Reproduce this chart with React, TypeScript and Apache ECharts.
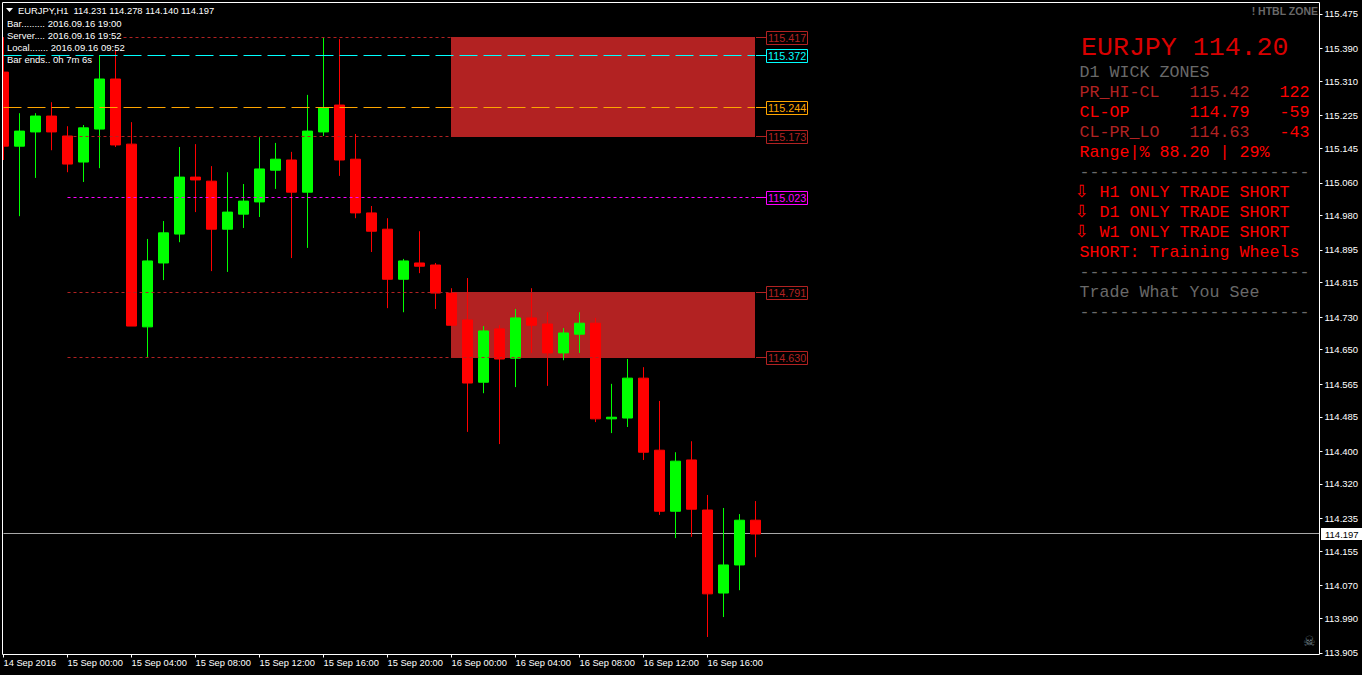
import React, { useEffect, useRef } from "react";
import * as echarts from "echarts";

const tickLabels = [
  "14 Sep 2016", "15 Sep 00:00", "15 Sep 04:00", "15 Sep 08:00", "15 Sep 12:00", "15 Sep 16:00",
  "15 Sep 20:00", "16 Sep 00:00", "16 Sep 04:00", "16 Sep 08:00", "16 Sep 12:00", "16 Sep 16:00",
];
const priceTicks = [
  115.475, 115.39, 115.31, 115.225, 115.145, 115.06, 114.98, 114.895, 114.815, 114.73,
  114.65, 114.565, 114.485, 114.4, 114.32, 114.235, 114.155, 114.07, 113.99, 113.905,
];
const opens = [
  115.332, 115.15, 115.185, 115.224, 115.175, 115.111, 115.192, 115.315, 115.155, 114.706, 114.863, 114.934,
  115.074, 115.064, 114.946, 114.983, 115.013, 115.091, 115.116, 115.037, 115.185, 115.251, 115.118, 114.986,
  114.946, 114.823, 114.863, 114.858, 114.789, 114.723, 114.57, 114.701, 114.629, 114.728, 114.713, 114.642,
  114.688, 114.715, 114.48, 114.482, 114.58, 114.403, 114.253, 114.379, 114.256, 114.052, 114.121, 114.231,
];
const closes = [
  115.15, 115.187, 115.224, 115.185, 115.106, 115.195, 115.315, 115.153, 114.708, 114.868, 114.937, 115.074,
  115.067, 114.946, 114.988, 115.015, 115.094, 115.118, 115.037, 115.187, 115.244, 115.116, 114.986, 114.941,
  114.823, 114.868, 114.855, 114.789, 114.71, 114.568, 114.696, 114.627, 114.728, 114.71, 114.642, 114.691,
  114.715, 114.48, 114.484, 114.58, 114.398, 114.253, 114.376, 114.258, 114.05, 114.121, 114.231, 114.197,
];
const lows = [
  115.116, 114.978, 115.072, 115.14, 115.086, 115.062, 115.096, 115.148, 114.708, 114.632, 114.821, 114.914,
  114.988, 114.843, 114.841, 114.949, 114.976, 115.045, 114.875, 114.9, 115.175, 115.077, 114.973, 114.89,
  114.752, 114.742, 114.838, 114.75, 114.71, 114.448, 114.543, 114.418, 114.558, 114.642, 114.561, 114.624,
  114.642, 114.472, 114.445, 114.46, 114.379, 114.244, 114.187, 114.19, 113.944, 113.993, 114.059, 114.14,
];
const highs = [
  115.418, 115.231, 115.231, 115.258, 115.199, 115.202, 115.374, 115.386, 115.209, 114.922, 114.966, 115.148,
  115.155, 115.101, 115.086, 115.057, 115.172, 115.158, 115.136, 115.276, 115.418, 115.413, 115.18, 115.003,
  114.973, 114.873, 114.941, 114.863, 114.801, 114.826, 114.708, 114.71, 114.75, 114.801, 114.742, 114.703,
  114.742, 114.728, 114.566, 114.627, 114.607, 114.524, 114.398, 114.425, 114.293, 114.261, 114.246, 114.278,
];
const currentPrice = 114.197;
const zoneBands = [
  [115.417, 115.173],
  [114.791, 114.63],
];
const levelLines = [
  { value: 115.417, color: "#B22222", from: 7.5, dash: [3, 3] },
  { value: 115.372, color: "#00FFFF", from: 0, dash: [18, 6] },
  { value: 115.244, color: "#FFA500", from: 0, dash: [18, 6] },
  { value: 115.173, color: "#B22222", from: 4, dash: [3, 3] },
  { value: 115.023, color: "#FF00FF", from: 4, dash: [3, 3] },
  { value: 114.791, color: "#B22222", from: 4, dash: [3, 3] },
  { value: 114.63, color: "#B22222", from: 4, dash: [3, 3] },
];
const headerText = "EURJPY,H1  114.231 114.278 114.140 114.197";
const infoLines = [
  "Bar......... 2016.09.16 19:00",
  "Server.... 2016.09.16 19:52",
  "Local....... 2016.09.16 09:52",
  "Bar ends.. 0h 7m 6s",
];
const panelRule = "-----------------------";
const panelRows = [
  { cells: ["D1 WICK ZONES"], colors: ["#696969"] },
  { cells: ["PR_HI-CL", "115.42", "122"], colors: ["#B22222", "#B22222", "#FF0000"] },
  { cells: ["CL-OP", "114.79", "-59"], colors: ["#FF0000", "#FF0000", "#FF0000"] },
  { cells: ["CL-PR_LO", "114.63", "-43"], colors: ["#B22222", "#B22222", "#FF0000"] },
  { cells: ["Range|% 88.20 | 29%"], colors: ["#FF0000"] },
  { cells: [panelRule], colors: ["#696969"] },
  { cells: ["H1 ONLY TRADE SHORT"], colors: ["#FF0000"], arrow: true },
  { cells: ["D1 ONLY TRADE SHORT"], colors: ["#FF0000"], arrow: true },
  { cells: ["W1 ONLY TRADE SHORT"], colors: ["#FF0000"], arrow: true },
  { cells: ["SHORT: Training Wheels"], colors: ["#FF0000"] },
  { cells: [panelRule], colors: ["#696969"] },
  { cells: ["Trade What You See"], colors: ["#696969"] },
  { cells: [panelRule], colors: ["#696969"] },
];

const SANS = "'Liberation Sans', Arial, sans-serif";
const MONO = "'Liberation Mono', 'Courier New', monospace";
const AXIS_SLOTS = 83;
const ZONE_FIRST_BAR = 28;
const LAST_BAR = 47;

const crisp = (v: number) => Math.floor(v - 0.2) + 0.5;

function renderZone(_: any, api: any) {
  const a = api.coord([api.value(0), api.value(2)]);
  const b = api.coord([api.value(1), api.value(3)]);
  const x = Math.floor(a[0]);
  const y = Math.floor(a[1]);
  return {
    type: "rect",
    shape: { x, y, width: Math.floor(b[0]) - x, height: Math.floor(b[1]) - y + 1 },
    style: { fill: "#B22222" },
  };
}

function renderLevel(params: any, api: any) {
  const level = levelLines[params.dataIndex];
  const a = api.coord([api.value(0), api.value(2)]);
  const b = api.coord([api.value(1), api.value(2)]);
  const y = crisp(a[1]);
  const endX = Math.floor(b[0]);
  const boxX = endX + 11;
  return {
    type: "group",
    children: [
      {
        type: "line",
        shape: { x1: a[0], y1: y, x2: endX, y2: y },
        style: { stroke: level.color, lineWidth: 1, lineDash: level.dash, fill: null },
      },
      {
        type: "line",
        shape: { x1: endX + 1, y1: y, x2: boxX, y2: y },
        style: { stroke: level.color, lineWidth: 1, fill: null },
      },
      {
        type: "rect",
        shape: { x: boxX + 0.5, y: y - 6, width: 41, height: 13 },
        style: { fill: "#000", stroke: level.color, lineWidth: 1 },
      },
      {
        type: "text",
        style: {
          x: boxX + 2,
          y: y + 0.5,
          text: level.value.toFixed(3),
          fill: level.color,
          fontFamily: SANS,
          fontSize: 10.8,
          verticalAlign: "middle",
        },
      },
    ],
  };
}

function renderPrice(_: any, api: any) {
  const a = api.coord([api.value(0), api.value(2)]);
  const b = api.coord([api.value(1), api.value(2)]);
  const y = crisp(a[1]);
  return {
    type: "group",
    children: [
      {
        type: "line",
        shape: { x1: a[0], y1: y, x2: b[0], y2: y },
        style: { stroke: "#A8A8A8", lineWidth: 1, fill: null },
      },
      {
        type: "rect",
        shape: { x: 1321, y: y - 5.5, width: 41, height: 12 },
        style: { fill: "#FFF" },
      },
      {
        type: "text",
        style: {
          x: 1325,
          y: y + 0.5,
          text: api.value(2).toFixed(3),
          fill: "#000",
          fontFamily: SANS,
          fontSize: 9.5,
          verticalAlign: "middle",
        },
      },
    ],
  };
}

function buildGraphics() {
  const g: any[] = [];
  const text = (x: number, y: number, t: string, color: string, font: any, extra: any = {}) =>
    g.push({
      type: "text",
      x,
      y,
      silent: true,
      z: 100,
      style: { text: t, fill: color, verticalAlign: "middle", ...font, ...extra },
    });
  g.push({
    type: "rect",
    z: 80,
    silent: true,
    shape: { x: 0, y: 0, width: 3, height: 655 },
    style: { fill: "#000" },
  });
  g.push({
    type: "rect",
    z: 90,
    silent: true,
    shape: { x: 2.5, y: 2.5, width: 1317, height: 652 },
    style: { fill: "none", stroke: "#FFFFFF", lineWidth: 1 },
  });
  g.push({
    type: "polygon",
    z: 100,
    silent: true,
    shape: { points: [[6, 8], [13, 8], [9.5, 12]] },
    style: { fill: "#FFFFFF" },
  });
  const small = { fontFamily: SANS, fontSize: 9.5 };
  text(18, 10.5, headerText, "#FFFFFF", { fontFamily: SANS, fontSize: 9.4 });
  infoLines.forEach((t, i) => text(7, 23.5 + 12 * i, t, "#FFFFFF", small));
  text(1318, 11, "! HTBL ZONE", "#696969", { fontFamily: SANS, fontSize: 10.5, fontWeight: "bold" }, { align: "right" });
  text(1081, 48, "EURJPY 114.20", "#D80000", { fontFamily: MONO, fontSize: 26.6 });
  const columns = [1079.5, 1189.5, 1279.5];
  const mono = { fontFamily: MONO, fontSize: 16.67 };
  panelRows.forEach((row, i) => {
    const y = 72.5 + 20 * i;
    if (row.arrow) {
      text(1074.5, y - 1.5, "\u21E9", "#FF0000", { fontFamily: "'DejaVu Sans'", fontSize: 17 });
      text(1099.5, y, row.cells[0], row.colors[0], mono);
    } else {
      row.cells.forEach((c, k) => text(columns[k], y, c, row.colors[k], mono));
    }
  });
  text(1303, 640.5, "\u2620", "#70808A", { fontFamily: "'DejaVu Sans'", fontSize: 14 });
  return g;
}

export default function App() {
  const ref = useRef<HTMLDivElement>(null);
  useEffect(() => {
    if (!ref.current) return;
    document.body.style.margin = "0";
    document.body.style.background = "#000";
    const chart = echarts.init(ref.current, undefined, { renderer: "svg" });
    const categories = Array.from({ length: AXIS_SLOTS }, (_, i) =>
      i % 4 === 0 && tickLabels[i / 4] ? tickLabels[i / 4] : ""
    );
    const isTick = (i: number) => i % 4 === 0 && !!tickLabels[i / 4];
    const candleData = opens.map((o, i) => [o, closes[i], lows[i], highs[i]]);
    const overlay = { xAxisIndex: 1, yAxisIndex: 0, silent: true, clip: false };
    chart.setOption({
      animation: false,
      backgroundColor: "#000",
      tooltip: { show: false },
      grid: { left: 3.5, top: 2.5, width: 1312, height: 652, containLabel: false },
      xAxis: [
        {
          type: "category",
          data: categories,
          boundaryGap: false,
          axisLine: { show: false, onZero: false },
          axisTick: { show: true, length: 3, interval: isTick, lineStyle: { color: "#FFF" } },
          axisLabel: {
            show: true,
            interval: isTick,
            align: "left",
            margin: 4,
            color: "#FFF",
            fontFamily: SANS,
            fontSize: 9.3,
          },
          splitLine: { show: false },
        },
        { type: "value", min: 0, max: 82, show: false, axisLine: { onZero: false }, splitLine: { show: false } },
      ],
      yAxis: [
        {
          type: "value",
          position: "right",
          offset: 4,
          min: 113.901,
          max: 115.503,
          axisLine: { show: false, onZero: false },
          axisTick: { show: true, length: 3, customValues: priceTicks, lineStyle: { color: "#FFF" } },
          axisLabel: {
            show: true,
            customValues: priceTicks,
            formatter: (v: number) => v.toFixed(3),
            margin: 5,
            color: "#FFF",
            fontFamily: SANS,
            fontSize: 9.5,
          },
          splitLine: { show: false },
        },
      ],
      graphic: buildGraphics(),
      series: [
        {
          ...overlay,
          type: "custom",
          z: 1,
          renderItem: renderZone,
          encode: { x: [0, 1], y: [2, 3] },
          data: zoneBands.map((b) => [ZONE_FIRST_BAR, LAST_BAR, b[0], b[1]]),
        },
        {
          ...overlay,
          type: "custom",
          z: 2,
          renderItem: renderPrice,
          encode: { x: [0, 1], y: 2 },
          data: [[0, 82.25, currentPrice]],
        },
        {
          type: "candlestick",
          xAxisIndex: 0,
          yAxisIndex: 0,
          data: candleData,
          barWidth: 10,
          z: 4,
          clip: false,
          silent: true,
          itemStyle: {
            color: "#00FF00",
            color0: "#FF0000",
            borderColor: "#00FF00",
            borderColor0: "#FF0000",
            borderWidth: 1,
          },
        },
        {
          ...overlay,
          type: "custom",
          z: 6,
          renderItem: renderLevel,
          encode: { x: [0, 1], y: 2 },
          data: levelLines.map((l) => [l.from, LAST_BAR, l.value]),
        },
      ],
    });
    return () => chart.dispose();
  }, []);
  return (
    <div
      ref={ref}
      style={{ position: "absolute", left: 0, top: 0, width: 1362, height: 675, overflow: "hidden" }}
    />
  );
}
